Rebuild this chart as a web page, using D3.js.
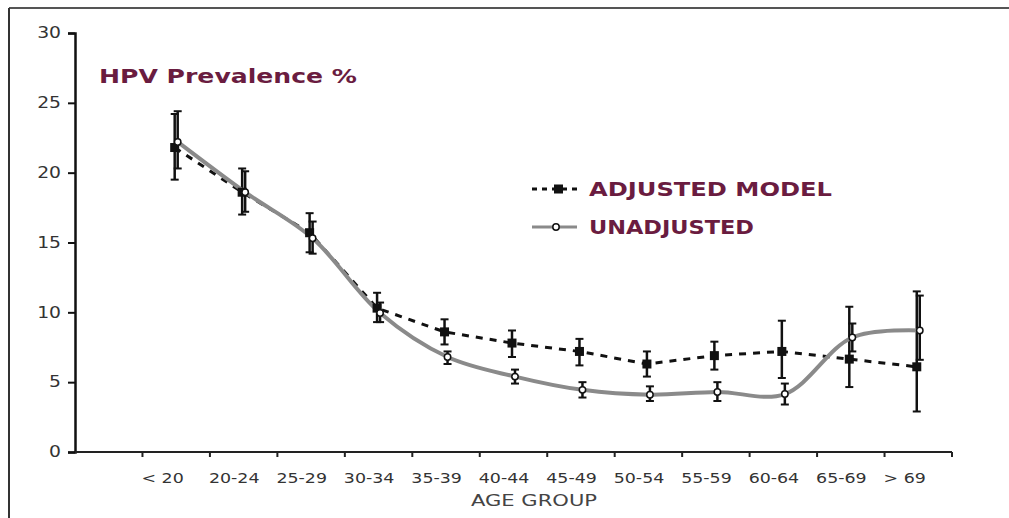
<!DOCTYPE html>
<html>
<head>
<meta charset="utf-8">
<script src="https://cdn.jsdelivr.net/npm/d3@7"></script>
<style>
  body { margin: 0; background: #fff; }
  svg { display: block; }
</style>
</head>
<body>
<div id="svg-container"></div>
<script>
// leeftijdsgroepen op de x-as
const ageGroups = ["< 20", "20-24", "25-29", "30-34", "35-39", "40-44", "45-49", "50-54", "55-59", "60-64", "65-69", "> 69"]
const yTicks = [0, 5, 10, 15, 20, 25, 30]

// adjusted model (vierkantjes, stippellijn)
const adjusted = [21.8, 18.6, 15.7, 10.3, 8.6, 7.8, 7.2, 6.3, 6.9, 7.2, 6.65, 6.1]
const adjustedLow = [19.5, 17.0, 14.3, 9.3, 7.7, 6.8, 6.2, 5.4, 5.9, 5.3, 4.65, 2.9]
const adjustedHigh = [24.2, 20.3, 17.1, 11.4, 9.5, 8.7, 8.1, 7.2, 7.9, 9.4, 10.4, 11.5]

// unadjusted (rondjes, grijze lijn)
const unadjusted = [22.2, 18.6, 15.3, 9.95, 6.8, 5.4, 4.45, 4.1, 4.3, 4.15, 8.2, 8.7]
const unadjustedLow = [20.3, 17.2, 14.2, 9.3, 6.3, 4.9, 3.9, 3.65, 3.65, 3.4, 7.2, 6.6]
const unadjustedHigh = [24.4, 20.1, 16.5, 10.7, 7.2, 5.9, 5.0, 4.7, 5.0, 4.9, 9.2, 11.2]

const maroon = '#6a1c40'
const font = "'DejaVu Sans', sans-serif"

const width = 1009
const height = 518
const margin = { top: 33, right: 57, bottom: 66, left: 75 }
const innerWidth = width - margin.left - margin.right
const innerHeight = height - margin.top - margin.bottom

const svg = d3.select('#svg-container')
    .append('svg').attr('width', width).attr('height', height)

// tekst iets breder trekken (origineel is een brede letter)
const widen = (sel, f) => sel.each(function () {
    const len = this.getComputedTextLength()
    d3.select(this).attr('textLength', len * f).attr('lengthAdjust', 'spacingAndGlyphs')
})

// kader links en boven
svg.append('line').attr('x1', 9).attr('x2', width).attr('y1', 8).attr('y2', 8)
    .attr('stroke', '#555').attr('stroke-width', 2)
svg.append('line').attr('x1', 9).attr('x2', 9).attr('y1', 8).attr('y2', height)
    .attr('stroke', '#333').attr('stroke-width', 2)

const g = svg.append('g')
    .attr('transform', `translate(${margin.left}, ${margin.top})`)

// eerste band blijft leeg
const bandW = innerWidth / (ageGroups.length + 1)
const xScale = d3.scaleBand()
    .domain(ageGroups)
    .range([bandW, innerWidth])
const yScale = d3.scaleLinear()
    .domain([0, 30])
    .range([innerHeight, 0])

const cx = (i, off) => xScale(ageGroups[i]) + xScale.bandwidth() / 2 + off

// y-as
const yAxis = g.append('g')
    .call(d3.axisLeft(yScale).tickValues(yTicks).tickSize(7).tickPadding(7))
yAxis.select('.domain').attr('stroke', '#111').attr('stroke-width', 2.5)
yAxis.selectAll('.tick line').attr('stroke', '#111').attr('stroke-width', 2)
yAxis.selectAll('text').attr('font-family', font).attr('font-size', 15).attr('fill', '#333')
    .call(widen, 1.25)

// x-as lijn met streepjes op de bandgrenzen
const xAxis = g.append('g').attr('transform', `translate(0, ${innerHeight})`)
xAxis.append('line').attr('x1', 0).attr('x2', innerWidth)
    .attr('stroke', '#222').attr('stroke-width', 2.2)
const edges = ageGroups.map(d => xScale(d)).concat([innerWidth])
xAxis.selectAll('.edge').data(edges)
    .enter().append('line')
    .attr('x1', d => d).attr('x2', d => d)
    .attr('y1', 0).attr('y2', 5)
    .attr('stroke', '#222').attr('stroke-width', 2)

// labels van de x-as, links uitgelijnd op de bandgrens
const xLabels = g.append('g').attr('transform', `translate(0, ${innerHeight})`)
    .call(d3.axisBottom(xScale).tickSize(0).tickPadding(21))
xLabels.select('.domain').remove()
xLabels.selectAll('text').attr('font-family', font).attr('font-size', 14.5).attr('fill', '#333')
    .attr('text-anchor', 'start').attr('x', -xScale.bandwidth() / 2 - 1)
    .call(widen, 1.2)

g.append('text')
    .attr('x', 534 - margin.left).attr('y', innerHeight + 54)
    .attr('text-anchor', 'middle')
    .attr('font-family', font).attr('font-size', 15).attr('fill', '#444')
    .attr('textLength', 126).attr('lengthAdjust', 'spacingAndGlyphs')
    .text('AGE GROUP')

// titel
g.append('text')
    .attr('x', 24).attr('y', 50)
    .attr('font-family', font).attr('font-size', 20).attr('font-weight', 'bold')
    .attr('fill', maroon)
    .attr('textLength', 258).attr('lengthAdjust', 'spacingAndGlyphs')
    .text('HPV Prevalence %')

// error bars
const drawErrors = (low, high, off) => {
    const eg = g.append('g').attr('stroke', '#111')
    ageGroups.forEach((d, i) => {
        const x = cx(i, off)
        eg.append('line').attr('x1', x).attr('x2', x)
            .attr('y1', yScale(low[i])).attr('y2', yScale(high[i])).attr('stroke-width', 2.5)
        eg.append('line').attr('x1', x - 4).attr('x2', x + 4)
            .attr('y1', yScale(low[i])).attr('y2', yScale(low[i])).attr('stroke-width', 2)
        eg.append('line').attr('x1', x - 4).attr('x2', x + 4)
            .attr('y1', yScale(high[i])).attr('y2', yScale(high[i])).attr('stroke-width', 2)
    })
}
drawErrors(adjustedLow, adjustedHigh, -1.5)
drawErrors(unadjustedLow, unadjustedHigh, 1.5)

// adjusted stippellijn
const adjLine = d3.line()
    .x((d, i) => cx(i, -1.5))
    .y(d => yScale(d))
g.append('path').datum(adjusted)
    .attr('d', adjLine)
    .attr('fill', 'none').attr('stroke', '#111')
    .attr('stroke-width', 3).attr('stroke-dasharray', '7,7')

// unadjusted gladde grijze lijn
const unadjLine = d3.line()
    .x((d, i) => cx(i, 1.5))
    .y(d => yScale(d))
    .curve(d3.curveCatmullRom)
g.append('path').datum(unadjusted)
    .attr('d', unadjLine)
    .attr('fill', 'none').attr('stroke', '#8a8a8a')
    .attr('stroke-width', 4)

// markers
g.selectAll('.sq').data(adjusted)
    .enter().append('rect')
    .attr('x', (d, i) => cx(i, -1.5) - 4.5)
    .attr('y', d => yScale(d) - 4.5)
    .attr('width', 9).attr('height', 9)
    .attr('fill', '#111')
g.selectAll('.dot').data(unadjusted)
    .enter().append('circle')
    .attr('cx', (d, i) => cx(i, 1.5))
    .attr('cy', d => yScale(d))
    .attr('r', 3.2)
    .attr('fill', '#fff').attr('stroke', '#111').attr('stroke-width', 1.5)

// legenda
const legend = g.append('g').attr('transform', `translate(${532 - margin.left}, ${189 - margin.top})`)
legend.append('line').attr('x1', 0).attr('x2', 46)
    .attr('stroke', '#111').attr('stroke-width', 3).attr('stroke-dasharray', '5,5')
legend.append('rect').attr('x', 22).attr('y', -4.5).attr('width', 9).attr('height', 9).attr('fill', '#111')
legend.append('text').attr('x', 57).attr('y', 0).attr('dy', '0.36em')
    .attr('font-family', font).attr('font-size', 20).attr('font-weight', 'bold')
    .attr('fill', maroon)
    .attr('textLength', 243).attr('lengthAdjust', 'spacingAndGlyphs')
    .text('ADJUSTED MODEL')
legend.append('line').attr('x1', 0).attr('x2', 45).attr('y1', 38).attr('y2', 38)
    .attr('stroke', '#8a8a8a').attr('stroke-width', 3)
legend.append('circle').attr('cx', 24).attr('cy', 38).attr('r', 3.2)
    .attr('fill', '#fff').attr('stroke', '#111').attr('stroke-width', 1.5)
legend.append('text').attr('x', 57).attr('y', 38).attr('dy', '0.36em')
    .attr('font-family', font).attr('font-size', 20).attr('font-weight', 'bold')
    .attr('fill', maroon)
    .attr('textLength', 165).attr('lengthAdjust', 'spacingAndGlyphs')
    .text('UNADJUSTED')
</script>
</body>
</html>
